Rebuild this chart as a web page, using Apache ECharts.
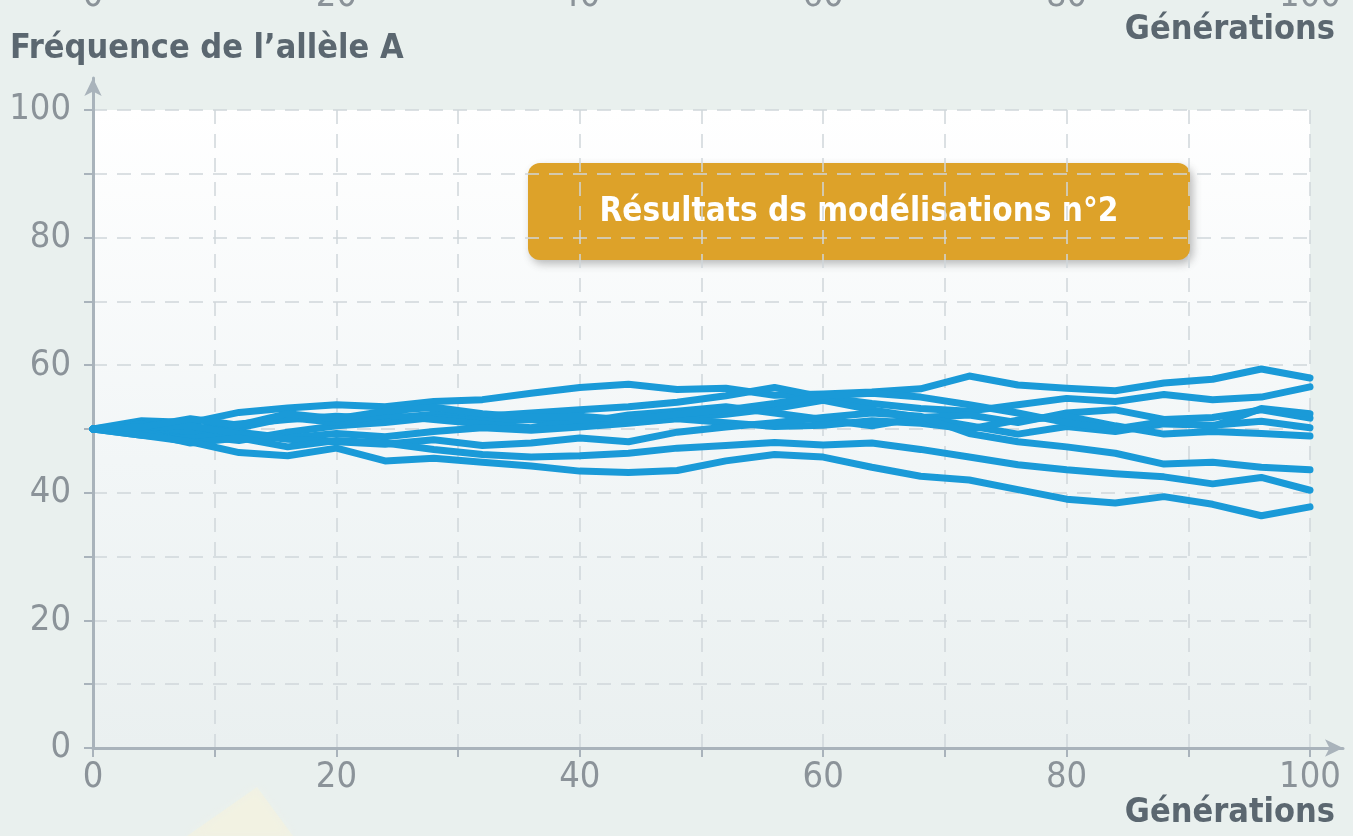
<!DOCTYPE html>
<html>
<head>
<meta charset="utf-8">
<title>Fréquence de l’allèle A</title>
<script src="https://cdn.jsdelivr.net/npm/echarts@6/dist/echarts.min.js"></script>
<style>
  html, body { margin: 0; padding: 0; background: #e9f0ee; }
  #chart { width: 1353px; height: 836px; }
</style>
</head>
<body>
<div id="chart"></div>
<script>
// Generations sampled for every simulated population
const generations = [0, 4, 8, 12, 16, 20, 24, 28, 32, 36, 40, 44, 48, 52, 56, 60, 64, 68, 72, 76, 80, 84, 88, 92, 96, 100];

// Frequency of allele A (%) in each simulation run
const run1 = [50, 51.3, 51.0, 52.6, 53.3, 53.8, 53.5, 54.3, 54.6, 55.6, 56.5, 57.0, 56.2, 56.4, 55.3, 55.5, 55.8, 56.3, 58.3, 56.9, 56.4, 56.0, 57.2, 57.8, 59.4, 58.0];
const run2 = [50, 50.5, 50.0, 50.8, 51.5, 52.0, 51.6, 52.3, 52.0, 52.5, 53.0, 53.5, 54.2, 55.2, 56.5, 55.0, 54.0, 53.2, 52.8, 53.8, 54.8, 54.3, 55.4, 54.6, 55.0, 56.6];
const run3 = [50, 49.6, 49.0, 48.2, 49.5, 50.5, 51.0, 51.8, 51.2, 51.5, 51.0, 52.2, 52.8, 53.5, 52.5, 51.5, 50.5, 51.8, 52.2, 51.0, 52.5, 53.0, 51.5, 51.8, 53.0, 51.7];
const run4 = [50, 50.8, 49.5, 50.2, 51.8, 51.0, 52.2, 51.5, 50.8, 50.2, 51.5, 51.0, 51.7, 52.3, 53.2, 54.5, 53.0, 51.8, 50.5, 49.2, 50.4, 49.6, 50.8, 50.6, 51.2, 50.2];
const run5 = [50, 49.0, 48.5, 49.5, 48.6, 49.3, 48.8, 49.6, 50.2, 49.8, 50.3, 50.9, 51.6, 51.0, 50.4, 50.6, 51.3, 50.9, 50.0, 51.4, 52.0, 50.5, 49.2, 49.6, 49.3, 48.9];
const run6 = [50, 50.2, 50.5, 49.2, 48.4, 48.0, 47.6, 48.3, 47.4, 47.8, 48.6, 48.0, 49.5, 50.3, 51.0, 51.8, 52.5, 52.0, 49.3, 48.0, 47.2, 46.2, 44.5, 44.8, 44.0, 43.6];
const run7 = [50, 49.5, 47.8, 48.6, 47.2, 48.2, 47.8, 46.8, 46.0, 45.6, 45.8, 46.2, 47.0, 47.4, 47.9, 47.5, 47.8, 46.8, 45.6, 44.4, 43.6, 43.0, 42.5, 41.4, 42.4, 40.4];
const run8 = [50, 49.0, 48.0, 46.3, 45.8, 47.0, 45.0, 45.4, 44.8, 44.2, 43.4, 43.2, 43.5, 45.0, 46.0, 45.6, 44.0, 42.6, 42.0, 40.5, 39.0, 38.4, 39.4, 38.2, 36.4, 37.8];
const run9 = [50, 50.3, 51.6, 50.6, 52.4, 51.6, 52.8, 53.4, 52.4, 51.8, 52.0, 51.4, 52.3, 53.0, 54.0, 55.2, 55.6, 55.0, 53.8, 52.5, 51.0, 50.0, 51.2, 50.4, 53.2, 52.4];

const runs = [run1, run2, run3, run4, run5, run6, run7, run8, run9];

// Axis labels
const tickLabels = ['0', '20', '40', '60', '80', '100'];
const yAxisTitle = 'Fréquence de l’allèle A';
const xAxisTitle = 'Générations';
const boxTitle = 'Résultats ds modélisations n°2';

const FONT = "'Liberation Sans Narrow', 'DejaVu Sans Condensed', 'Liberation Sans', sans-serif";
const AXIS_GREY = '#a9b3bb';
const LABEL_GREY = '#8b9399';
const TITLE_GREY = '#5b6770';
const LINE_BLUE = '#1a9ad8';

const chart = echarts.init(document.getElementById('chart'), null, { renderer: 'canvas' });

const labelFormatter = v => (tickLabels.indexOf(String(v)) >= 0 ? String(v) : '');

const option = {
  animation: false,
  backgroundColor: '#e9f0ee',
  grid: [
    {
      // plotting area
      left: 93, right: 43, top: 110, bottom: 88,
      show: true,
      borderWidth: 0,
      backgroundColor: new echarts.graphic.LinearGradient(0, 0, 0, 1, [
        { offset: 0, color: '#ffffff' },
        { offset: 0.55, color: '#f2f6f7' },
        { offset: 1, color: '#eaf0f0' }
      ])
    },
    {
      // frame carrying the arrowed axis lines, longer than the plot
      left: 93, right: 10, top: 78, bottom: 88
    },
    {
      // strip of the preceding figure's axis, above the page edge
      left: 93, right: 43, top: -136, height: 82
    }
  ],
  xAxis: [
    {
      gridIndex: 0, type: 'value', min: 0, max: 100, interval: 10,
      axisLine: { show: false },
      axisTick: { show: true, length: 9, lineStyle: { color: AXIS_GREY, width: 2 } },
      axisLabel: { formatter: labelFormatter, color: LABEL_GREY, fontSize: 36, fontFamily: FONT, margin: 12 },
      splitLine: { show: true, lineStyle: { color: '#d0d6da', width: 1.5, type: [14, 10] } }
    },
    {
      gridIndex: 1, type: 'value', min: 0, max: 1,
      axisLine: { show: true, onZero: false, symbol: ['none', 'arrow'], symbolSize: [13, 18],
        lineStyle: { color: AXIS_GREY, width: 3 } },
      axisTick: { show: false }, axisLabel: { show: false }, splitLine: { show: false }
    },
    {
      gridIndex: 2, type: 'value', min: 0, max: 100, interval: 10,
      axisLine: { show: false }, axisTick: { show: false }, splitLine: { show: false },
      axisLabel: { formatter: labelFormatter, color: LABEL_GREY, fontSize: 36, fontFamily: FONT, margin: 12 }
    }
  ],
  yAxis: [
    {
      gridIndex: 0, type: 'value', min: 0, max: 100, interval: 10,
      axisLine: { show: false },
      axisTick: { show: true, length: 9, lineStyle: { color: AXIS_GREY, width: 2 } },
      axisLabel: { formatter: labelFormatter, color: LABEL_GREY, fontSize: 36, fontFamily: FONT, margin: 22 },
      splitLine: { show: true, lineStyle: { color: '#d0d6da', width: 1.5, type: [14, 10] } }
    },
    {
      gridIndex: 1, type: 'value', min: 0, max: 1,
      axisLine: { show: true, onZero: false, symbol: ['none', 'arrow'], symbolSize: [13, 18],
        lineStyle: { color: AXIS_GREY, width: 3 } },
      axisTick: { show: false }, axisLabel: { show: false }, splitLine: { show: false }
    },
    {
      gridIndex: 2, type: 'value', min: 0, max: 1, show: false
    }
  ],
  series: runs.map((run, i) => ({
    name: 'Simulation ' + (i + 1),
    type: 'line',
    xAxisIndex: 0,
    yAxisIndex: 0,
    data: generations.map((g, k) => [g, run[k]]),
    showSymbol: false,
    symbol: 'none',
    z: 5,
    lineStyle: { color: LINE_BLUE, width: 7, cap: 'round', join: 'round' }
  })),
  graphic: [
    // faint pale arrow tip at the foot of the page
    {
      type: 'polygon', z: 0, silent: true,
      shape: { points: [[257, 787], [187, 836], [293, 836]] },
      style: { fill: 'rgba(255, 246, 210, 0.3)', shadowBlur: 10, shadowColor: 'rgba(255, 246, 210, 0.4)' }
    },
    {
      type: 'text', left: 10, top: 32, z: 10,
      style: { text: yAxisTitle, fill: TITLE_GREY, font: 'bold 34px ' + FONT }
    },
    {
      type: 'text', right: 18, top: 796, z: 10,
      style: { text: xAxisTitle, fill: TITLE_GREY, font: 'bold 34px ' + FONT }
    },
    {
      type: 'text', right: 18, top: 13, z: 10,
      style: { text: xAxisTitle, fill: TITLE_GREY, font: 'bold 34px ' + FONT }
    },
    {
      type: 'group', left: 528, top: 163, z: 20,
      children: [
        {
          type: 'rect',
          shape: { x: 0, y: 0, width: 662, height: 97, r: 12 },
          style: {
            fill: '#dda229',
            shadowBlur: 8, shadowOffsetX: 3, shadowOffsetY: 4,
            shadowColor: 'rgba(60, 60, 60, 0.35)'
          }
        },
        {
          type: 'text',
          x: 331, y: 49,
          style: {
            text: boxTitle, fill: '#ffffff', font: 'bold 33px ' + FONT,
            align: 'center', verticalAlign: 'middle'
          }
        }
      ]
    }
  ]
};

chart.setOption(option);
</script>
</body>
</html>
